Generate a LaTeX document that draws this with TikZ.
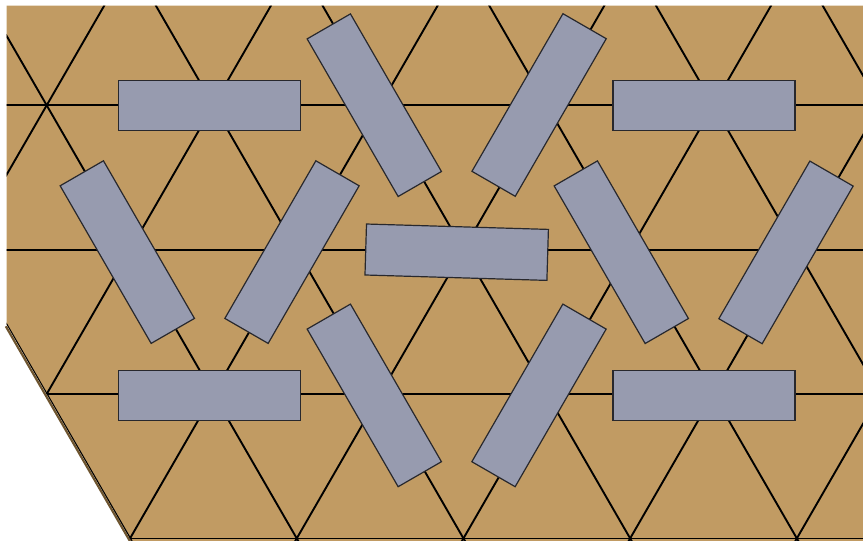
\documentclass[tikz,border=0pt]{standalone}
\usetikzlibrary{calc}
\definecolor{tan}{RGB}{193,155,99}
\definecolor{slab}{RGB}{151,155,175}
\definecolor{slabline}{RGB}{40,40,45}
\definecolor{edgebrown}{RGB}{110,85,48}
\tikzset{
  slabrect/.style={draw=slabline, fill=slab, line width=1.2pt, rectangle, inner sep=0pt,
    minimum width=182pt, minimum height=50pt},
  gridline/.style={draw=black, line width=1.9pt},
}
\begin{document}
\begin{tikzpicture}[x=1pt,y=-1pt]
\useasboundingbox (0,0) rectangle (863,541);
% tan field
\fill[tan] (6.7,5.7) -- (863,5.7) -- (863,541) -- (131.4,541) -- (6.7,324.8) -- cycle;
\draw[edgebrown, line width=2.2pt] (5.8,326.3) -- (130.3,541.8);
% triangular grid
\begin{scope}
\clip (6.7,5.7) -- (863,5.7) -- (863,541) -- (131.4,541) -- (6.7,324.8) -- cycle;
\foreach \j in {-1,0,1,2,3} {
  \draw[gridline] (-10,105.3+144.4*\j) -- (880,105.3+144.4*\j);
}
\foreach \k in {-4,...,8} {
  \draw[gridline] (46.7+166.7*\k-400,105.3-692.8) -- (46.7+166.7*\k+400,105.3+692.8);
  \draw[gridline] (46.7+166.7*\k-400,105.3+692.8) -- (46.7+166.7*\k+400,105.3-692.8);
}
\end{scope}
% slabs, top row
\node[slabrect] (r1) at (209.5,105.1) {};
\node[slabrect, rotate=-60] (r2) at (374.3,105.2) {};
\node[slabrect, rotate=60] (r3) at (539.1,105.0) {};
\node[slabrect] (r4) at (704.0,105.1) {};
% middle row
\node[slabrect, rotate=-60] (r5) at (127.3,252.1) {};
\node[slabrect, rotate=60] (r6) at (292.0,252.1) {};
\node[slabrect, rotate=-1.7, minimum height=51pt] (r7) at (456.7,252.2) {};
\node[slabrect, rotate=-60] (r8) at (621.3,252.2) {};
\node[slabrect, rotate=60] (r9) at (786.0,252.4) {};
% bottom row
\node[slabrect] (r10) at (209.5,395.2) {};
\node[slabrect, rotate=-60] (r11) at (374.3,395.4) {};
\node[slabrect, rotate=60] (r12) at (539.0,395.4) {};
\node[slabrect] (r13) at (704.0,395.2) {};
\end{tikzpicture}
\end{document}
